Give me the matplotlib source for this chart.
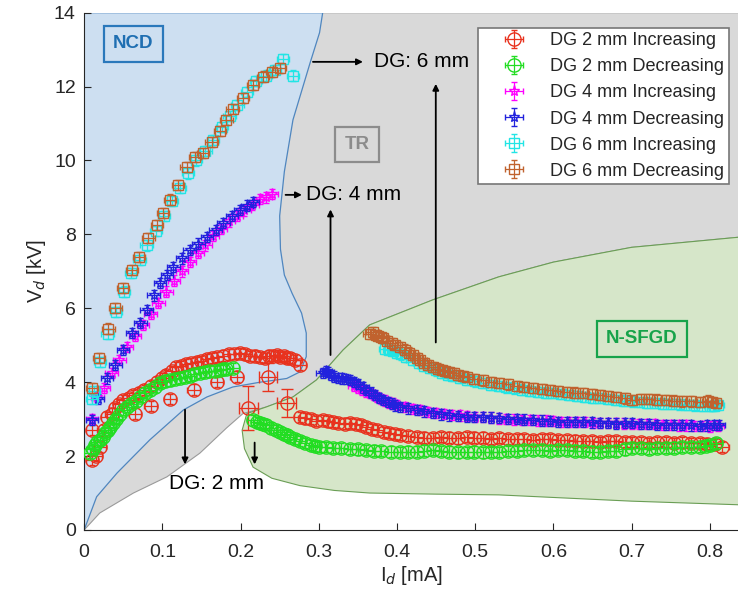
import numpy as np
import matplotlib
matplotlib.use('Agg')
import matplotlib.pyplot as plt
from matplotlib.patches import Polygon

plt.rcParams['font.family'] = ['Liberation Sans', 'DejaVu Sans']

# ---- data (I_d in mA, V_d in kV) ----
# DG 2 mm increasing
red_x = [0.010, 0.010, 0.015, 0.020, 0.025, 0.029, 0.035, 0.040, 0.045, 0.050,
         0.057, 0.063, 0.070, 0.076, 0.085, 0.093, 0.100, 0.105, 0.112, 0.118,
         0.124, 0.130, 0.137, 0.144, 0.150, 0.157, 0.163, 0.170, 0.178, 0.185,
         0.192, 0.199, 0.206, 0.212, 0.218, 0.225, 0.231, 0.236, 0.241, 0.246,
         0.251, 0.255, 0.259, 0.263, 0.270, 0.276,
         0.065, 0.085, 0.110, 0.140, 0.170, 0.195,
         0.276, 0.282, 0.290, 0.297, 0.305, 0.312, 0.318, 0.325, 0.333, 0.340,
         0.347, 0.354, 0.361, 0.368, 0.375, 0.383, 0.390, 0.397, 0.404, 0.414,
         0.425, 0.435, 0.446, 0.456, 0.467, 0.478, 0.489, 0.499, 0.510, 0.520,
         0.531, 0.542, 0.553, 0.563, 0.574, 0.585, 0.596, 0.606, 0.617, 0.628,
         0.638, 0.649, 0.659, 0.670, 0.680, 0.691, 0.701, 0.712, 0.722, 0.733,
         0.744, 0.754, 0.765, 0.776, 0.787, 0.797, 0.806, 0.816]
red_y = [1.90, 2.70, 2.00, 2.25, 2.70, 3.06, 3.15, 3.30, 3.40, 3.52,
         3.58, 3.65, 3.72, 3.79, 3.90, 4.00, 4.10, 4.20, 4.30, 4.41,
         4.44, 4.48, 4.52, 4.55, 4.58, 4.62, 4.65, 4.69, 4.72, 4.75,
         4.77, 4.79, 4.75, 4.70, 4.72, 4.69, 4.66, 4.72, 4.70, 4.74,
         4.68, 4.70, 4.65, 4.66, 4.60, 4.47,
         3.15, 3.35, 3.55, 3.80, 4.00, 4.15,
         3.06, 3.02, 3.00, 2.95, 2.98, 2.94, 2.92, 2.90, 2.88, 2.90,
         2.86, 2.85, 2.79, 2.74, 2.70, 2.66, 2.62, 2.60, 2.57, 2.54,
         2.52, 2.50, 2.49, 2.51, 2.50, 2.48, 2.52, 2.50, 2.50, 2.47,
         2.49, 2.47, 2.46, 2.45, 2.44, 2.46, 2.45, 2.43, 2.44, 2.42,
         2.41, 2.40, 2.38, 2.40, 2.40, 2.39, 2.38, 2.37, 2.36, 2.38,
         2.38, 2.36, 2.37, 2.36, 2.35, 2.34, 2.33, 2.25]
red_tr_x = [0.210, 0.235, 0.259]
red_tr_y = [3.30, 4.14, 3.44]
red_tr_yerr = [0.60, 0.38, 0.38]

# DG 2 mm decreasing
green_x = [0.008, 0.011, 0.014, 0.017, 0.020, 0.024, 0.027, 0.030, 0.033, 0.037,
           0.041, 0.045, 0.050, 0.055, 0.060, 0.066, 0.072, 0.078, 0.084, 0.090,
           0.097, 0.103, 0.110, 0.116, 0.123, 0.129, 0.135, 0.141, 0.148, 0.154,
           0.160, 0.167, 0.174, 0.178, 0.182, 0.190,
           0.216, 0.221, 0.225, 0.229, 0.233, 0.239, 0.245, 0.250, 0.255, 0.259,
           0.263, 0.270, 0.276, 0.283, 0.290, 0.295, 0.300, 0.309, 0.318, 0.329,
           0.340, 0.350, 0.361, 0.370, 0.380, 0.392, 0.404, 0.414, 0.425, 0.435,
           0.446, 0.456, 0.467, 0.478, 0.489, 0.499, 0.510, 0.520, 0.531, 0.542,
           0.553, 0.563, 0.574, 0.585, 0.596, 0.606, 0.617, 0.628, 0.638, 0.649,
           0.659, 0.670, 0.680, 0.691, 0.701, 0.712, 0.722, 0.733, 0.744, 0.754,
           0.765, 0.776, 0.787, 0.795, 0.800, 0.808]
green_y = [2.08, 2.20, 2.30, 2.38, 2.44, 2.53, 2.62, 2.70, 2.79, 2.90,
           3.00, 3.12, 3.25, 3.33, 3.42, 3.50, 3.60, 3.70, 3.80, 3.88,
           3.98, 4.02, 4.05, 4.08, 4.12, 4.15, 4.18, 4.21, 4.25, 4.27,
           4.29, 4.31, 4.33, 4.35, 4.36, 4.39,
           2.98, 2.93, 2.90, 2.87, 2.84, 2.77, 2.70, 2.65, 2.60, 2.56,
           2.52, 2.46, 2.40, 2.35, 2.30, 2.27, 2.25, 2.24, 2.22, 2.21,
           2.20, 2.18, 2.17, 2.15, 2.14, 2.12, 2.11, 2.12, 2.12, 2.15,
           2.17, 2.14, 2.12, 2.10, 2.11, 2.12, 2.10, 2.11, 2.11, 2.13,
           2.14, 2.16, 2.17, 2.16, 2.15, 2.16, 2.17, 2.15, 2.13, 2.12,
           2.11, 2.13, 2.15, 2.18, 2.22, 2.21, 2.20, 2.21, 2.22, 2.23,
           2.24, 2.24, 2.25, 2.28, 2.30, 2.35]

# DG 4 mm increasing
mag_x = [0.010, 0.017, 0.025, 0.035, 0.045, 0.055, 0.065, 0.075, 0.085, 0.095,
         0.105, 0.115, 0.125, 0.135, 0.145, 0.155, 0.165, 0.175, 0.185, 0.195,
         0.205, 0.215, 0.225, 0.232, 0.240,
         0.345, 0.350, 0.355, 0.360, 0.365, 0.370, 0.375, 0.380, 0.385, 0.390,
         0.395, 0.400, 0.410, 0.420, 0.430, 0.440, 0.450, 0.460, 0.470, 0.480,
         0.490, 0.500, 0.510, 0.520, 0.530, 0.540, 0.550, 0.560, 0.570, 0.580,
         0.590, 0.600, 0.610, 0.620, 0.630, 0.640, 0.650, 0.660, 0.670, 0.680,
         0.690, 0.700, 0.710, 0.720, 0.730, 0.740, 0.750, 0.760, 0.770, 0.780,
         0.790, 0.800, 0.810]
mag_y = [3.00, 3.60, 3.85, 4.25, 4.60, 4.95, 5.25, 5.55, 5.85, 6.15,
         6.45, 6.75, 7.00, 7.25, 7.50, 7.70, 7.95, 8.15, 8.35, 8.50,
         8.65, 8.80, 8.95, 9.00, 9.10,
         3.90, 3.85, 3.80, 3.75, 3.70, 3.65, 3.60, 3.55, 3.50, 3.45,
         3.42, 3.38, 3.33, 3.28, 3.24, 3.20, 3.17, 3.14, 3.12, 3.10,
         3.08, 3.06, 3.05, 3.04, 3.02, 3.00, 2.99, 2.98, 2.97, 2.96,
         2.96, 2.95, 2.93, 2.92, 2.93, 2.92, 2.90, 2.89, 2.90, 2.90,
         2.88, 2.87, 2.87, 2.86, 2.86, 2.85, 2.84, 2.83, 2.83, 2.82,
         2.81, 2.80, 2.82]

# DG 4 mm decreasing
blue_x = [0.010, 0.018, 0.029, 0.040, 0.050, 0.061, 0.072, 0.080, 0.089, 0.097,
          0.106, 0.114, 0.125, 0.135, 0.146, 0.157, 0.168, 0.178, 0.189, 0.199,
          0.208, 0.216,
          0.305, 0.309, 0.312, 0.316, 0.320, 0.325, 0.330, 0.335, 0.340, 0.345,
          0.350, 0.356, 0.361, 0.367, 0.372, 0.377, 0.382, 0.388, 0.393, 0.398,
          0.404, 0.414, 0.425, 0.435, 0.446, 0.456, 0.467, 0.478, 0.489, 0.499,
          0.510, 0.520, 0.531, 0.542, 0.553, 0.563, 0.574, 0.585, 0.596, 0.606,
          0.617, 0.628, 0.638, 0.649, 0.659, 0.670, 0.680, 0.691, 0.701, 0.712,
          0.722, 0.733, 0.744, 0.754, 0.765, 0.776, 0.787, 0.797, 0.805, 0.812]
blue_y = [2.98, 3.55, 4.10, 4.47, 4.87, 5.33, 5.60, 5.96, 6.35, 6.69,
          6.90, 7.12, 7.35, 7.58, 7.75, 7.93, 8.12, 8.31, 8.50, 8.66,
          8.78, 8.88,
          4.25, 4.30, 4.28, 4.20, 4.15, 4.12, 4.10, 4.08, 4.06, 4.00,
          3.95, 3.86, 3.79, 3.72, 3.65, 3.58, 3.52, 3.47, 3.42, 3.37,
          3.33, 3.29, 3.25, 3.21, 3.17, 3.13, 3.10, 3.08, 3.06, 3.06,
          3.05, 3.04, 3.03, 3.01, 3.00, 2.99, 2.98, 2.96, 2.95, 2.93,
          2.92, 2.93, 2.92, 2.91, 2.90, 2.89, 2.88, 2.89, 2.90, 2.87,
          2.86, 2.85, 2.84, 2.85, 2.85, 2.83, 2.82, 2.83, 2.84, 2.84]

# DG 6 mm increasing
cyan_x = [0.010, 0.012, 0.020, 0.030, 0.041, 0.051, 0.060, 0.071, 0.080, 0.092,
          0.102, 0.112, 0.122, 0.133, 0.143, 0.155, 0.165, 0.176, 0.186, 0.196,
          0.208, 0.220, 0.232, 0.244, 0.254, 0.267,
          0.385, 0.390, 0.395, 0.400, 0.405, 0.412, 0.420, 0.428, 0.435, 0.442,
          0.450, 0.458, 0.465, 0.472, 0.480, 0.490, 0.500, 0.510, 0.520, 0.530,
          0.540, 0.550, 0.560, 0.570, 0.580, 0.590, 0.600, 0.610, 0.620, 0.630,
          0.640, 0.650, 0.660, 0.670, 0.680, 0.690, 0.700, 0.710, 0.720, 0.730,
          0.740, 0.750, 0.760, 0.770, 0.780, 0.790, 0.800, 0.805, 0.810]
cyan_y = [3.55, 3.75, 4.55, 5.30, 5.90, 6.45, 6.95, 7.30, 7.70, 8.10,
          8.50, 8.90, 9.25, 9.65, 10.00, 10.25, 10.55, 10.90, 11.20, 11.50,
          11.85, 12.15, 12.30, 12.45, 12.75, 12.30,
          4.90, 4.88, 4.85, 4.80, 4.75, 4.68, 4.60, 4.52, 4.45, 4.38,
          4.32, 4.26, 4.20, 4.16, 4.12, 4.07, 4.02, 3.97, 3.93, 3.90,
          3.86, 3.83, 3.80, 3.77, 3.74, 3.72, 3.70, 3.68, 3.66, 3.63,
          3.60, 3.58, 3.57, 3.55, 3.52, 3.50, 3.48, 3.47, 3.45, 3.44,
          3.42, 3.41, 3.40, 3.38, 3.37, 3.36, 3.35, 3.36, 3.38]

# DG 6 mm decreasing
brown_x = [0.010, 0.019, 0.031, 0.040, 0.050, 0.061, 0.070, 0.082, 0.093, 0.101,
           0.110, 0.120, 0.131, 0.142, 0.152, 0.163, 0.174, 0.182, 0.190, 0.203,
           0.216, 0.229, 0.240, 0.250,
           0.365, 0.369, 0.373, 0.376, 0.379, 0.382, 0.387, 0.393, 0.398, 0.404,
           0.410, 0.415, 0.420, 0.425, 0.430, 0.435, 0.440, 0.446, 0.452, 0.457,
           0.462, 0.467, 0.473, 0.478, 0.484, 0.489, 0.499, 0.510, 0.520, 0.531,
           0.542, 0.553, 0.563, 0.574, 0.585, 0.596, 0.606, 0.617, 0.628, 0.638,
           0.649, 0.659, 0.670, 0.680, 0.691, 0.701, 0.712, 0.722, 0.733, 0.744,
           0.754, 0.765, 0.776, 0.787, 0.798, 0.803, 0.808]
brown_y = [3.85, 4.65, 5.45, 6.00, 6.55, 7.04, 7.39, 7.90, 8.26, 8.58,
           8.94, 9.34, 9.83, 10.10, 10.20, 10.50, 10.80, 11.10, 11.40, 11.70,
           12.05, 12.27, 12.40, 12.50,
           5.30, 5.36, 5.28, 5.25, 5.22, 5.20, 5.12, 5.05, 5.00, 4.96,
           4.88, 4.80, 4.73, 4.66, 4.60, 4.52, 4.47, 4.41, 4.37, 4.33,
           4.30, 4.28, 4.24, 4.20, 4.17, 4.14, 4.09, 4.05, 4.01, 3.98,
           3.94, 3.90, 3.87, 3.84, 3.81, 3.79, 3.77, 3.74, 3.72, 3.70,
           3.68, 3.66, 3.63, 3.60, 3.56, 3.52, 3.54, 3.55, 3.53, 3.52,
           3.50, 3.48, 3.48, 3.47, 3.50, 3.46, 3.44]

# ---- regions (outline vertices) ----
ncd_x = [0.0, 0.016, 0.042, 0.084, 0.127, 0.157, 0.190, 0.225, 0.259, 0.276, 0.284, 0.284, 0.278,
         0.266, 0.256, 0.251, 0.250, 0.256, 0.267, 0.289, 0.301, 0.305, 0.0]
ncd_y = [0.0, 0.90, 1.54, 2.44, 3.25, 3.60, 3.87, 4.00, 4.10, 4.28, 4.69, 5.33, 5.87,
         6.40, 6.90, 7.60, 8.50, 9.70, 11.10, 12.65, 13.46, 14.0, 14.0]

tr_x = [0.0, 0.020, 0.063, 0.106, 0.148, 0.182, 0.203, 0.233, 0.267, 0.297, 0.331, 0.365, 0.446,
        0.530, 0.600, 0.700, 0.840, 0.840, 0.0]
tr_y = [0.0, 0.46, 1.00, 1.44, 2.08, 2.76, 3.15, 3.33, 3.60, 4.06, 4.87, 5.55, 6.23,
        6.85, 7.25, 7.65, 7.93, 14.0, 14.0]

sfgd_x = [0.202, 0.208, 0.233, 0.267, 0.297, 0.331, 0.365, 0.446, 0.530, 0.600, 0.700, 0.840,
          0.840, 0.700, 0.530, 0.450, 0.365, 0.320, 0.276, 0.240, 0.216, 0.205]
sfgd_y = [2.70, 3.15, 3.33, 3.60, 4.06, 4.87, 5.55, 6.23, 6.85, 7.25, 7.65, 7.93,
          0.68, 0.78, 0.95, 0.97, 1.00, 1.07, 1.20, 1.40, 1.70, 2.20]

fig = plt.figure(figsize=(7.38, 6.05), dpi=100)
ax = fig.add_axes([0.114, 0.124, 0.886, 0.855])

ax.add_patch(Polygon(np.column_stack([tr_x, tr_y]), closed=True, fc='#d9d9d9', ec='#9a9a9a', lw=0.8, zorder=0))
ax.add_patch(Polygon(np.column_stack([ncd_x, ncd_y]), closed=True, fc='#cddff1', ec='#4f86bf', lw=0.9, zorder=1))
ax.add_patch(Polygon(np.column_stack([sfgd_x, sfgd_y]), closed=True, fc='#d6e6c9', ec='#6a9e55', lw=0.8, zorder=1))

xe, ye = 0.008, 0.14
series = [
    (red_x, red_y, 'o', '#e8321e', 'DG 2 mm Increasing', 9.5),
    (green_x, green_y, 'o', '#22dd22', 'DG 2 mm Decreasing', 9.5),
    (mag_x, mag_y, '*', '#ff00ff', 'DG 4 mm Increasing', 8),
    (blue_x, blue_y, '*', '#2222dd', 'DG 4 mm Decreasing', 8),
    (cyan_x, cyan_y, 's', '#22e5e5', 'DG 6 mm Increasing', 7.5),
    (brown_x, brown_y, 's', '#c0622e', 'DG 6 mm Decreasing', 7.5),
]
for i, (x, y, m, c, lab, ms) in enumerate(series):
    ax.errorbar(x, y, xerr=xe, yerr=ye, fmt=m, color=c, mfc='none', ms=ms, mew=1.0,
                elinewidth=0.9, capsize=2.5, label=lab, zorder=3 + i)
    if i == 0:
        ax.errorbar(red_tr_x, red_tr_y, xerr=0.012, yerr=red_tr_yerr, fmt='o', color=c, mfc='none',
                    ms=ms, mew=1.0, elinewidth=0.9, capsize=4, zorder=3)

# region labels
box = dict(boxstyle='square,pad=0.5', fc='none', lw=1.6)
ax.text(0.063, 13.16, 'NCD', color='#1f6fb2', fontsize=13.5, fontweight='bold', ha='center', va='center',
        bbox=dict(box, ec='#2a78bb'), zorder=10)
ax.text(0.349, 10.43, 'TR', color='#8c8c8c', fontsize=13.5, fontweight='bold', ha='center', va='center',
        bbox=dict(box, ec='#8c8c8c'), zorder=10)
ax.text(0.713, 5.17, 'N-SFGD', color='#17a34a', fontsize=13.5, fontweight='bold', ha='center', va='center',
        bbox=dict(box, ec='#17a34a'), zorder=10)

# annotations
arr = dict(arrowstyle='-|>', color='black', lw=1.3, mutation_scale=9)
ax.annotate('', xy=(0.360, 12.67), xytext=(0.289, 12.67), arrowprops=arr, zorder=10)
ax.text(0.370, 12.67, 'DG: 6 mm', fontsize=15, va='center', ha='left', zorder=10)
ax.annotate('', xy=(0.282, 9.07), xytext=(0.254, 9.07), arrowprops=arr, zorder=10)
ax.text(0.284, 9.07, 'DG: 4 mm', fontsize=15, va='center', ha='left', zorder=10)
ax.annotate('', xy=(0.315, 8.75), xytext=(0.315, 4.66), arrowprops=arr, zorder=10)
ax.annotate('', xy=(0.4496, 12.15), xytext=(0.4496, 5.0), arrowprops=arr, zorder=10)
ax.annotate('', xy=(0.129, 1.70), xytext=(0.129, 3.33), arrowprops=arr, zorder=10)
ax.annotate('', xy=(0.218, 1.70), xytext=(0.218, 2.44), arrowprops=arr, zorder=10)
ax.text(0.169, 1.27, 'DG: 2 mm', fontsize=15, va='center', ha='center', zorder=10)

ax.set_xlim(0, 0.836)
ax.set_ylim(0, 14)
ax.set_xticks(np.arange(0, 0.81, 0.1))
ax.set_xticklabels(['0', '0.1', '0.2', '0.3', '0.4', '0.5', '0.6', '0.7', '0.8'])
ax.set_yticks(np.arange(0, 15, 2))
ax.tick_params(direction='in', labelsize=14, colors='#262626', length=5)
ax.tick_params(axis='x', pad=10)
ax.tick_params(axis='y', pad=6)
for s in ['top', 'right']:
    ax.spines[s].set_visible(False)
for s in ['left', 'bottom']:
    ax.spines[s].set_color('#262626')
ax.set_xlabel('I$_d$ [mA]', fontsize=14.5, color='#262626', labelpad=2)
ax.set_ylabel('V$_d$ [kV]', fontsize=14.5, color='#262626')

leg = ax.legend(loc='upper right', bbox_to_anchor=(0.986, 0.971), borderaxespad=0, fontsize=13.1,
                labelspacing=0.5, handlelength=3.46, handletextpad=0.25, borderpad=0.25,
                fancybox=False, framealpha=1, edgecolor='#777777')
leg.get_frame().set_linewidth(1.2)
for t in leg.get_texts():
    t.set_color('#262626')
leg.set_zorder(20)

fig.savefig('out.png', dpi=100)
